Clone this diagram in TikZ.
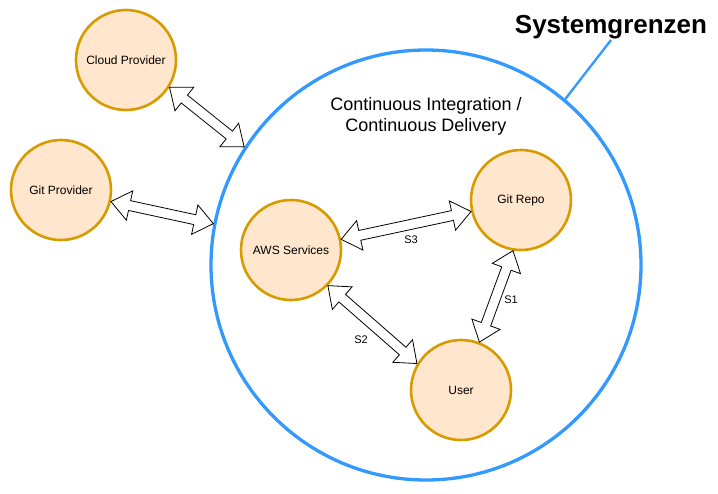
\documentclass[tikz,border=0pt]{standalone}
\usepackage{fontspec}
\setmainfont{Liberation Sans}
\usetikzlibrary{calc}
\definecolor{sysblue}{HTML}{3399FF}
\definecolor{nodefill}{HTML}{FFE6CC}
\definecolor{nodeline}{HTML}{D79B00}
\tikzset{
  comp/.style={circle, draw=nodeline, fill=nodefill, line width=2.6pt, minimum size=100pt, inner sep=0pt, font=\fontsize{12}{14}\selectfont},
  flex/.style={draw=black, fill=white, line width=0.8pt, line join=miter},
  lbl/.style={font=\fontsize{11}{13}\selectfont, inner sep=0pt},
  sysline/.style={draw=sysblue, line width=3.3pt}
}
\newcommand\flexarrow[2]{%
  \path[flex] let \p1=(#1),\p2=(#2),\n1={atan2(\y2-\y1,\x2-\x1)},\n2={veclen(\x2-\x1,\y2-\y1)} in
  [shift={(\p1)},rotate=\n1] (0pt,0pt) -- (19pt,15pt) -- (19pt,5pt) -- ({\n2-19pt},5pt) -- ({\n2-19pt},15pt) -- ({\n2+0pt},0pt) -- ({\n2-19pt},-15pt) -- ({\n2-19pt},-5pt) -- (19pt,-5pt) -- (19pt,-15pt) -- cycle;}
\begin{document}
\begin{tikzpicture}[x=1pt,y=-1pt]
\useasboundingbox (0,0) rectangle (718,493);
% system boundary
\node[circle, sysline, minimum size=430pt, inner sep=0pt] (sys) at (426,265) {};
\node[font=\fontsize{18}{21}\selectfont, align=center, inner sep=0pt] (title) at (426,116) {Continuous Integration /\\Continuous Delivery};
\node[font=\bfseries\fontsize{26}{30}\selectfont, inner sep=0pt, anchor=base] (sg) at (611,33) {Systemgrenzen};
\coordinate (sgend) at (611,40);
\draw[sysblue, line width=2.3pt] (sys.50.8) -- (sgend);
% components
\node[comp] (cp) at (126,60) {Cloud Provider};
\node[comp] (gp) at (61,190) {Git Provider};
\node[comp] (aws) at (291,250) {AWS Services};
\node[comp] (repo) at (521,200) {Git Repo};
\node[comp] (user) at (461,390) {User};
% connectors
\flexarrow{cp.-32}{sys.147.3}
\flexarrow{gp.-13.5}{sys.169.3}
\flexarrow{aws.12.4}{repo.-167.1}
\flexarrow{aws.-44.2}{user.149.4}
\flexarrow{repo.-99.8}{user.69.4}
% labels
\node[lbl] (s3) at (411,240) {S3};
\node[lbl] (s2) at (361,340) {S2};
\node[lbl] (s1) at (511,300) {S1};
\end{tikzpicture}
\end{document}
